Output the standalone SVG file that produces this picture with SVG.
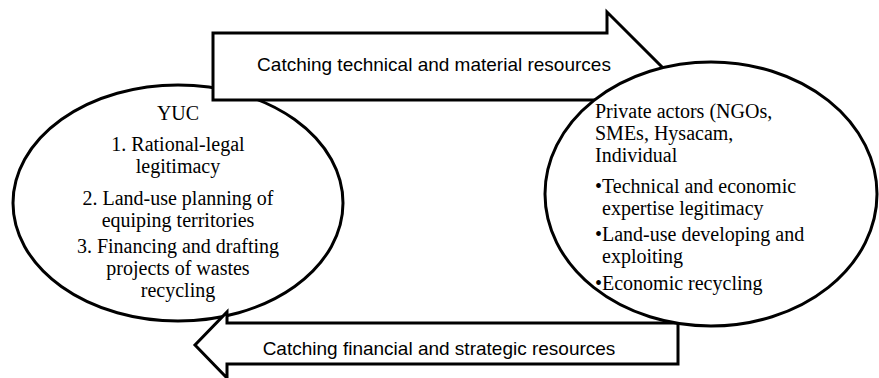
<svg xmlns="http://www.w3.org/2000/svg" width="879" height="378" viewBox="0 0 879 378">
<style>
.shape{fill:#fff;stroke:#000;stroke-width:3;stroke-linejoin:miter}
.serif{font-family:"Liberation Serif","Times New Roman",serif;font-size:20px;fill:#000}
.mid{text-anchor:middle}
.sans{font-family:"Liberation Sans",Arial,sans-serif;font-size:19px;fill:#000;text-anchor:middle}
</style>
<rect width="879" height="378" fill="#fff"/>
<g id="node-yuc">
<ellipse class="shape" cx="178" cy="203" rx="165" ry="118"/>
<text class="serif mid" x="178" y="120">YUC</text>
<text class="serif mid" x="178" y="151">1. Rational-legal</text>
<text class="serif mid" x="178" y="173">legitimacy</text>
<text class="serif mid" x="178" y="205">2. Land-use planning of</text>
<text class="serif mid" x="178" y="227">equiping territories</text>
<text class="serif mid" x="178" y="253">3. Financing and drafting</text>
<text class="serif mid" x="178" y="275">projects of wastes</text>
<text class="serif mid" x="178" y="297">recycling</text>
</g>
<g id="connectors">
<g id="arrow-top">
<path class="shape" d="M213,33 L607,33 L607,12 L662,67 L607,121 L607,100 L213,100 Z"/>
<text class="sans" x="434" y="71">Catching technical and material resources</text>
</g>
<g id="arrow-bottom">
<path class="shape" d="M678,323 L227,323 L227,312 L195,345 L227,378 L227,364 L678,364 Z"/>
<text class="sans" x="439" y="355">Catching financial and strategic resources</text>
</g>
</g>
<g id="node-private">
<ellipse class="shape" cx="711" cy="194" rx="166" ry="132"/>
<text class="serif" x="595" y="118">Private actors (NGOs,</text>
<text class="serif" x="595" y="140">SMEs, Hysacam,</text>
<text class="serif" x="595" y="162">Individual</text>
<text class="serif" x="595" y="193">•Technical and economic</text>
<text class="serif" x="602" y="215">expertise legitimacy</text>
<text class="serif" x="595" y="241">•Land-use developing and</text>
<text class="serif" x="602" y="263">exploiting</text>
<text class="serif" x="595" y="289.5">•Economic recycling</text>
</g>
</svg>
